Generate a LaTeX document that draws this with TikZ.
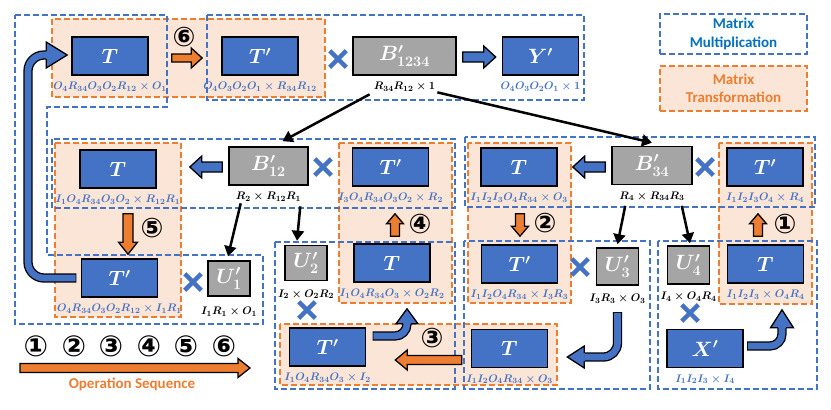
\documentclass[tikz,border=0pt]{standalone}
\usepackage{fontspec}
\usetikzlibrary{calc,shapes.misc,arrows.meta}
\newfontfamily\legfont{Carlito}
\newfontfamily\circfont{DejaVu Sans Bold}
\definecolor{mblue}{HTML}{4472C4}
\definecolor{morange}{HTML}{ED7D31}
\definecolor{lorange}{HTML}{FBE5D6}
\definecolor{mgray}{HTML}{A5A5A5}
\definecolor{lblue}{HTML}{0070C0}
\tikzset{
 mbox/.style={draw=mblue, line width=2.7pt, dash pattern=on 6pt off 3pt},
 tbox/.style={draw=morange, fill=lorange, line width=2.7pt, dash pattern=on 6pt off 3pt},
 mat/.style={draw=black, line width=1.6pt, fill=mblue, text=white, inner sep=0pt, minimum width=76pt, minimum height=38pt, font=\fontsize{22}{24}\selectfont\boldmath},
 gmat/.style={mat, fill=mgray, text=white},
 umat/.style={gmat, minimum width=42pt, minimum height=35pt},
 sub/.style={inner sep=0pt, anchor=north, yshift=-6pt, font=\fontsize{11}{13}\selectfont\boldmath, text=mblue},
 gsub/.style={sub, text=black},
 mult/.style={cross out, draw=mblue, line width=4.5pt, minimum size=12pt, inner sep=0pt},
 circ/.style={font=\circfont\fontsize{27}{28}\selectfont, inner sep=0pt},
 lcirc/.style={font=\circfont\fontsize{29}{30}\selectfont, inner sep=0pt},
 conn/.style={line width=2.5pt, -{Triangle[length=10pt,width=12pt]}},
 shaftk/.style={line width=9.3pt, black, shorten <=-0.65pt},
 shaftb/.style={line width=6.7pt, mblue},
 legtxt/.style={font=\legfont\bfseries\fontsize{15}{18.5}\selectfont, align=center},
}
\newcommand{\blockarr}[6]{%
\filldraw[fill=#1, draw=black, line width=1.3pt, line join=miter] let \p1=(#2), \p2=(#3), \n1={veclen(\x2-\x1,\y2-\y1)}, \n2={(\x2-\x1)/\n1}, \n3={(\y2-\y1)/\n1}, \p3=({\x2-(\n2)*#6},{\y2-(\n3)*#6}) in
({\x1-(\n3)*#4},{\y1+(\n2)*#4}) -- ({\x3-(\n3)*#4},{\y3+(\n2)*#4}) -- ({\x3-(\n3)*#5},{\y3+(\n2)*#5}) -- (\p2) -- ({\x3+(\n3)*#5},{\y3-(\n2)*#5}) -- ({\x3+(\n3)*#4},{\y3-(\n2)*#4}) -- ({\x1+(\n3)*#4},{\y1-(\n2)*#4}) -- cycle;}
\newcommand{\arrhead}[5]{%
\filldraw[fill=#1, draw=black, line width=1.3pt, line join=miter] let \p1=(#2), \p2=(#3), \n1={veclen(\x2-\x1,\y2-\y1)}, \n2={(\x2-\x1)/\n1}, \n3={(\y2-\y1)/\n1} in
({\x1-(\n3)*#4},{\y1+(\n2)*#4}) -- ({\x1-(\n3)*#5},{\y1+(\n2)*#5}) -- (\p2) -- ({\x1+(\n3)*#5},{\y1-(\n2)*#5}) -- ({\x1+(\n3)*#4},{\y1-(\n2)*#4});}
\begin{document}
\begin{tikzpicture}[x=1pt,y=-1pt]
\useasboundingbox[fill=white] (0,0) rectangle (831,410);
% transformation regions
\path[tbox] (52,19) rectangle (325,97);
\path[tbox] (55,143) rectangle (181,317);
\path[tbox] (339,143) rectangle (452,303);
\path[tbox] (280,324) rectangle (557,385);
\path[tbox] (468,143) rectangle (571,303);
\path[tbox] (719,143) rectangle (812,304);
% multiplication regions
\draw[mbox] (15,15) -- (167,15) -- (167,107) -- (47,107) -- (47,255) -- (263,255) -- (263,324) -- (15,324) -- cycle;
\draw[mbox] (207,15) rectangle (584,100);
\draw[mbox] (52,139) rectangle (455,208);
\draw[mbox] (465,137) rectangle (815,207);
\draw[mbox] (275,242) rectangle (455,389);
\draw[mbox] (464,241) rectangle (650,389);
\draw[mbox] (658,241) rectangle (817,389);
% legend
\node[mbox, legtxt, text=lblue, minimum width=147pt, minimum height=40pt] (legmm) at (733.5,34) {Matrix\\Multiplication};
\node[tbox, legtxt, text=morange, minimum width=147pt, minimum height=45pt] (legmt) at (733.5,88.5) {Matrix\\Transformation};
% row 1
\node[mat] (T1) at (110,56) {$T$};
\node[sub] (T1s) at (T1.south) {$O_4R_{34}O_3O_2R_{12}\times O_1$};
\node[mat] (Tp1) at (260,56) {$T'$};
\node[sub] (Tp1s) at (Tp1.south) {$O_4O_3O_2O_1\times R_{34}R_{12}$};
\node[gmat, minimum width=103pt] (B1234) at (404.5,56) {$B^{\prime}_{1234}$};
\node[gsub] (B1234s) at (B1234.south) {$R_{34}R_{12}\times 1$};
\node[mat] (Y) at (540.5,56) {$Y'$};
\node[sub] (Ys) at (Y.south) {$O_4O_3O_2O_1\times 1$};
\node[mult] (x1) at (338,59) {};
% row 2
\node[mat] (T2) at (118,169) {$T$};
\node[sub] (T2s) at (T2.south) {$I_1O_4R_{34}O_3O_2\times R_{12}R_1$};
\node[gmat, minimum width=79pt] (B12) at (268.5,166) {$B^{\prime}_{12}$};
\node[gsub] (B12s) at (B12.south) {$R_2\times R_{12}R_1$};
\node[mult] (x2) at (323,167) {};
\node[mat] (Tp2) at (390.5,167) {$T'$};
\node[sub] (Tp2s) at (Tp2.south) {$I_3O_4R_{34}O_3O_2\times R_2$};
\node[mat] (T3) at (519,167) {$T$};
\node[sub] (T3s) at (T3.south) {$I_1I_2I_3O_4R_{34}\times O_3$};
\node[gmat, minimum width=80pt] (B34) at (652,165.5) {$B^{\prime}_{34}$};
\node[gsub] (B34s) at (B34.south) {$R_4\times R_{34}R_3$};
\node[mult] (x3) at (705,167) {};
\node[mat] (Tp4) at (765,167) {$T'$};
\node[sub] (Tp4s) at (Tp4.south) {$I_1I_2I_3O_4\times R_4$};
% row 3
\node[mat] (Tp5) at (119.5,278) {$T'$};
\node[sub] (Tp5s) at (Tp5.south) {$O_4R_{34}O_3O_2R_{12}\times I_1R_1$};
\node[mult] (x4) at (193,282) {};
\node[umat] (U1) at (229,278.5) {$U^{\prime}_{1}$};
\node[gsub, yshift=-4pt] (U1s) at (U1.south) {$I_1R_1\times O_1$};
\node[umat] (U2) at (306,263) {$U^{\prime}_{2}$};
\node[gsub, yshift=-2pt] (U2s) at (U2.south) {$I_2\times O_2R_2$};
\node[mult] (x5) at (307,310) {};
\node[mat] (T6) at (392,263) {$T$};
\node[sub] (T6s) at (T6.south) {$I_1O_4R_{34}O_3\times O_2R_2$};
\node[mat] (Tp7) at (519.5,264) {$T'$};
\node[sub] (Tp7s) at (Tp7.south) {$I_1I_2O_4R_{34}\times I_3R_3$};
\node[mult] (x6) at (580,267) {};
\node[umat, minimum height=37pt] (U3) at (617.5,266.5) {$U^{\prime}_{3}$};
\node[gsub, yshift=-2pt] (U3s) at (U3.south) {$I_3R_3\times O_3$};
\node[umat, minimum height=38pt] (U4) at (688.5,265) {$U^{\prime}_{4}$};
\node[gsub, yshift=-1pt] (U4s) at (U4.south) {$I_4\times O_4R_4$};
\node[mult] (x7) at (690,313) {};
\node[mat] (T8) at (765.5,264) {$T$};
\node[sub] (T8s) at (T8.south) {$I_1I_2I_3\times O_4R_4$};
% row 4
\node[mat] (Tp9) at (327.5,347) {$T'$};
\node[sub] (Tp9s) at (Tp9.south) {$I_1O_4R_{34}O_3\times I_2$};
\node[mat] (T10) at (509.5,348.5) {$T$};
\node[sub] (T10s) at (T10.south) {$I_1I_2O_4R_{34}\times O_3$};
\node[mat] (X) at (705,348.5) {$X'$};
\node[sub] (Xs) at (X.south) {$I_1I_2I_3\times I_4$};
% black connectors
\draw[conn] ($(B1234s.south west)+(-4,3)$) -- ($(B12.north)+(14,-5)$);
\draw[conn] ($(B1234s.south east)+(2,1)$) -- ($(B34.north)+(0,-3)$);
\draw[conn] ($(B12s.south west)+(5,2)$) -- ($(U1.north)+(-1,-4)$);
\draw[conn] ($(B12s.south east)+(-1,5)$) -- ($(U2.north)+(-9,-4)$);
\draw[conn] ($(B34s.south west)+(6,5)$) -- ($(U3.north)+(0,-3)$);
\draw[conn] ($(B34s.south east)+(-3,5)$) -- ($(U4.north)+(1.5,-2)$);
% straight block arrows
\blockarr{morange}{$(T1.east)+(23,2)$}{$(Tp1.west)+(-19,2)$}{4}{10}{11}
\blockarr{mblue}{$(B1234.east)+(6,1)$}{$(Y.west)+(-6,1)$}{5}{11}{12}
\blockarr{mblue}{$(B12.west)+(-6,1)$}{$(T2.east)+(33,-2)$}{5}{11}{12}
\blockarr{mblue}{$(B34.west)+(-6,1.5)$}{$(T3.east)+(15,0)$}{5}{11}{12}
\blockarr{morange}{$(T2.south)+(10,25)$}{$(Tp5.north)+(8.5,-4)$}{5}{9.5}{12}
\blockarr{morange}{$(T6.north)+(3,-7)$}{$(Tp2.south)+(4.5,27)$}{4.5}{8.5}{10}
\blockarr{morange}{$(T3.south)+(1,27)$}{$(Tp7.north)+(0.5,-8)$}{4.5}{8.5}{10}
\blockarr{morange}{$(T8.north)+(-7.5,-8)$}{$(Tp4.south)+(-7,27)$}{4.5}{8.5}{10}
\blockarr{morange}{$(T10.west)+(-9,11.5)$}{$(Tp9.east)+(29,13)$}{4.5}{10}{12}
% curved block arrows
\coordinate (lc) at (28,0);
\coordinate (h1b) at ($(T1.west)+(-25,-1)$);
\coordinate (h1t) at ($(T1.west)+(-4,-1)$);
\draw[shaftk, rounded corners=16pt] ($(Tp5.west)+(-5,0)$) -- (Tp5.west -| lc) -- (h1b -| lc) -- (h1b);
\draw[shaftb, rounded corners=16pt] ($(Tp5.west)+(-5,0)$) -- (Tp5.west -| lc) -- (h1b -| lc) -- (h1b);
\arrhead{mblue}{h1b}{h1t}{4}{13}
\coordinate (h2b) at ($(T6.south)+(15,41)$);
\coordinate (h2t) at ($(T6.south)+(15,26)$);
\draw[shaftk, rounded corners=12pt] ($(Tp9.east)+(7,-11)$) -| (h2b);
\draw[shaftb, rounded corners=12pt] ($(Tp9.east)+(7,-11)$) -| (h2b);
\arrhead{mblue}{h2b}{h2t}{4}{11}
\coordinate (h3b) at ($(T10.east)+(36,8.5)$);
\coordinate (h3t) at ($(T10.east)+(19,8.5)$);
\draw[shaftk, rounded corners=14pt] ($(U3.south)+(0,27)$) |- (h3b);
\draw[shaftb, rounded corners=14pt] ($(U3.south)+(0,27)$) |- (h3b);
\arrhead{mblue}{h3b}{h3t}{4}{11}
\coordinate (h4b) at ($(T8.south)+(16.5,44)$);
\coordinate (h4t) at ($(T8.south)+(16.5,26)$);
\draw[shaftk, rounded corners=12pt] ($(X.east)+(4,-2.5)$) -| (h4b);
\draw[shaftb, rounded corners=12pt] ($(X.east)+(4,-2.5)$) -| (h4b);
\arrhead{mblue}{h4b}{h4t}{4}{11.5}
% step numbers
\node[circ] (c6) at (184,37.5) {⑥};
\node[circ] (c5) at (152,228) {⑤};
\node[circ] (c4) at (420,224) {④};
\node[circ] (c3) at (432,338) {③};
\node[circ] (c2) at (545,223) {②};
\node[circ] (c1) at (785,224) {①};
% sequence legend
\node[lcirc] (l1) at (36,346) {①};
\node[lcirc] (l2) at (74,346) {②};
\node[lcirc] (l3) at (111,346) {③};
\node[lcirc] (l4) at (149,346) {④};
\node[lcirc] (l5) at (186,346) {⑤};
\node[lcirc] (l6) at (224,346) {⑥};
\coordinate (sqs) at (20,368);
\coordinate (sqe) at (250,368);
\blockarr{morange}{sqs}{sqe}{4.5}{9.5}{12}
\node[font=\legfont\bfseries\fontsize{15}{18}\selectfont, text=morange] (opseq) at (132,384) {Operation Sequence};
\end{tikzpicture}
\end{document}
